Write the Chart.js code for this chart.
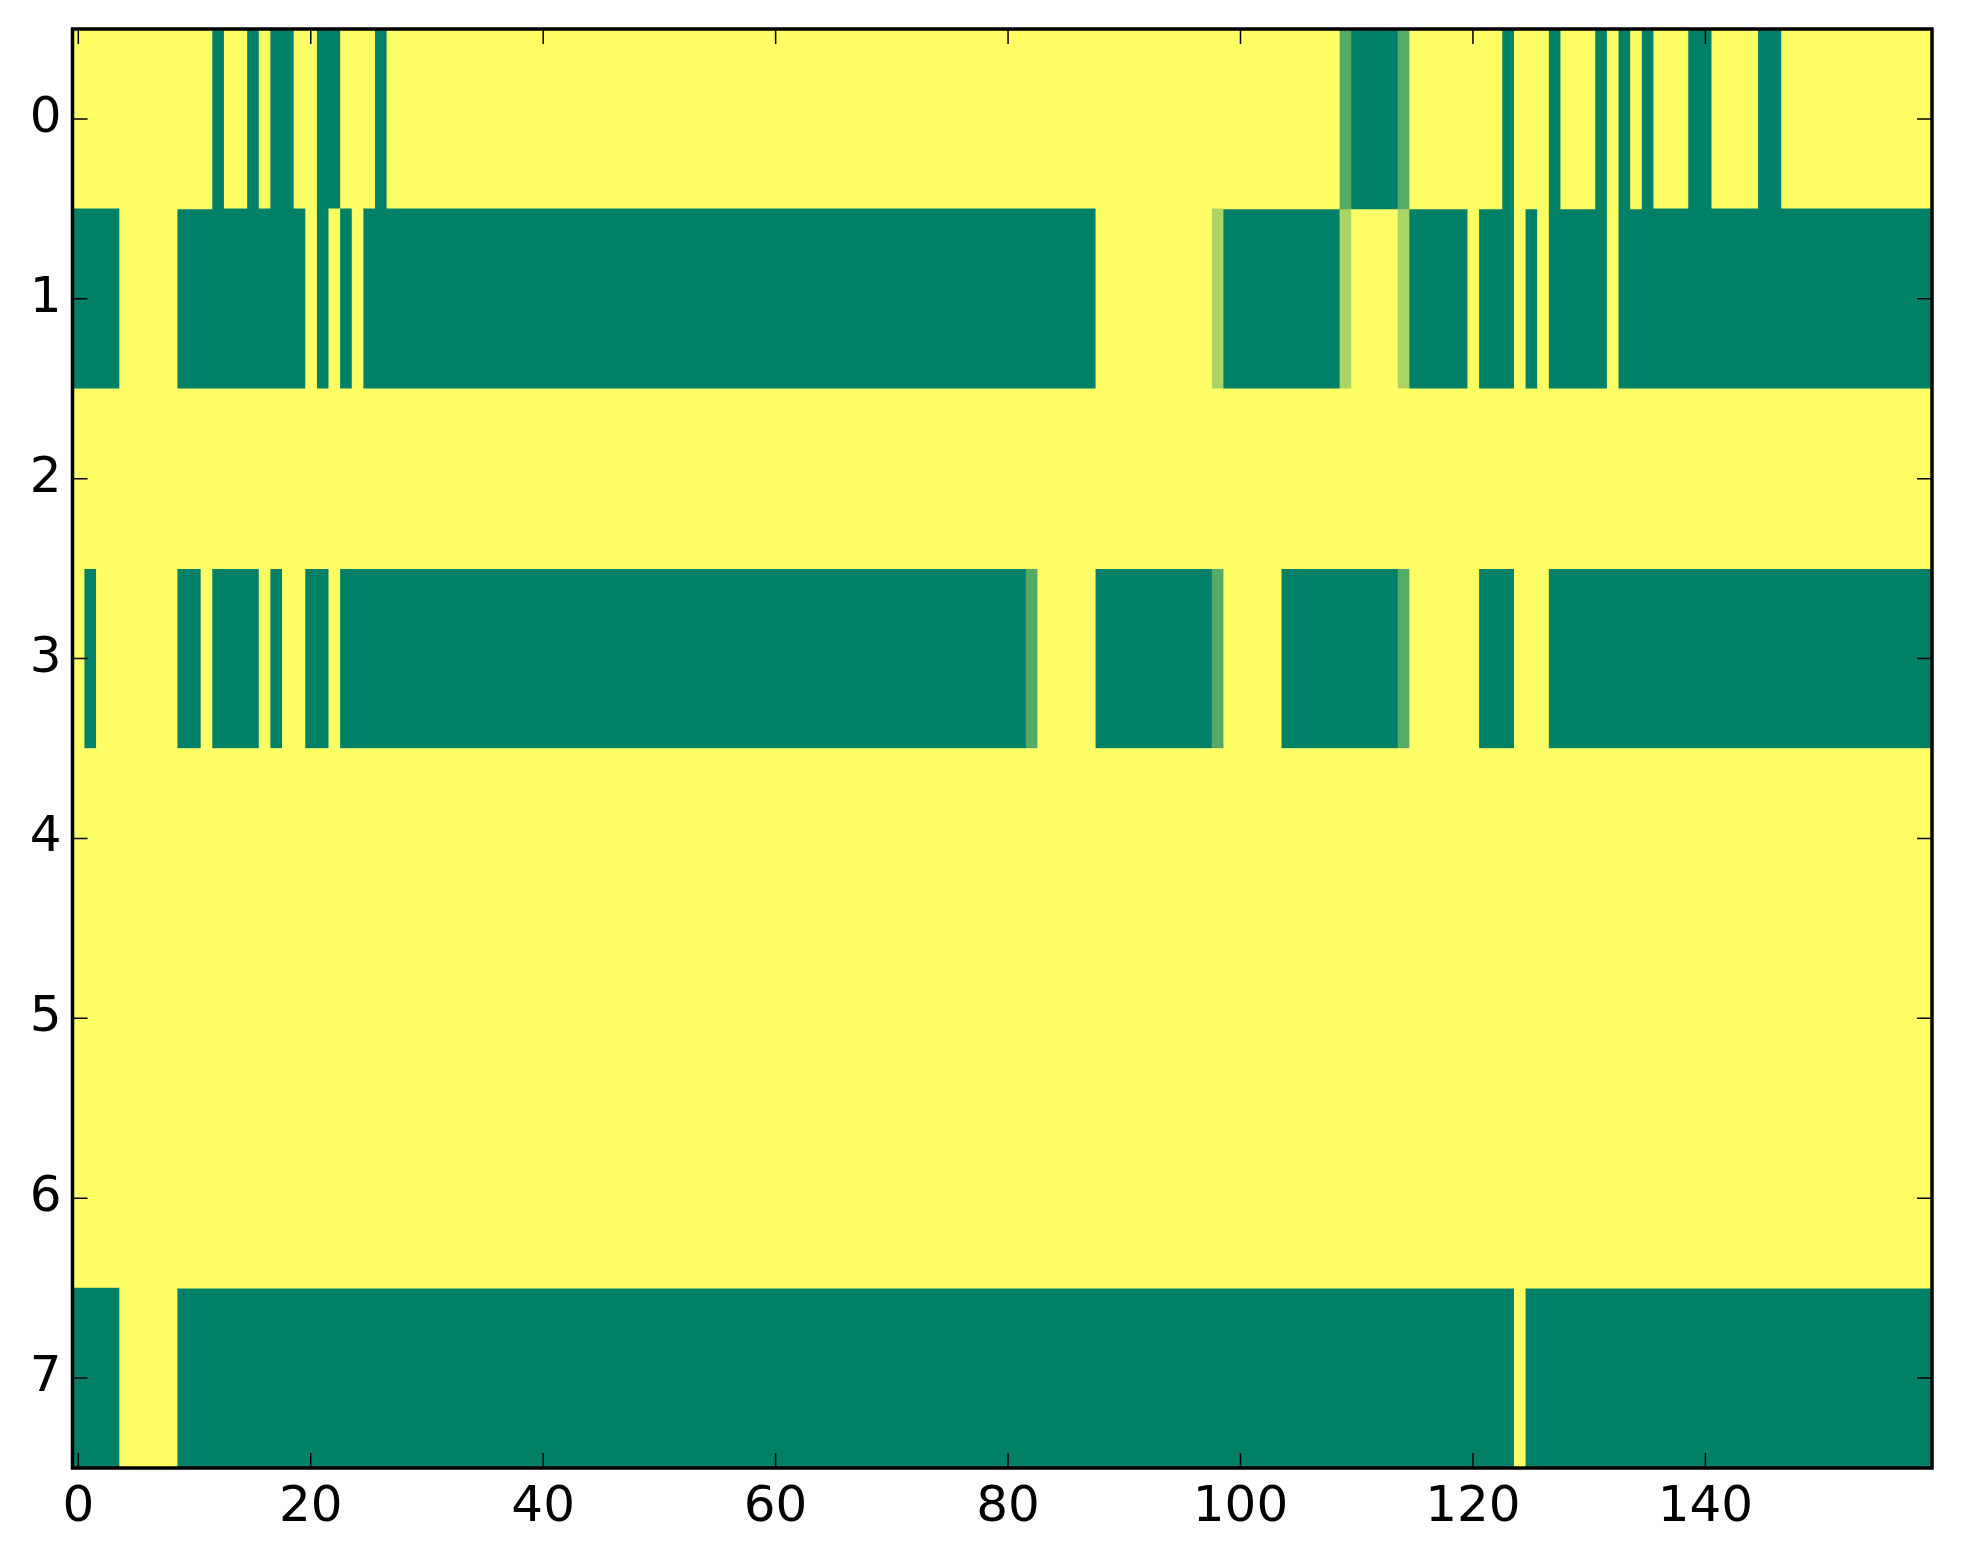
<!DOCTYPE html>
<html>
<head>
<meta charset="utf-8">
<script src="https://cdn.jsdelivr.net/npm/chart.js@4.4.1/dist/chart.umd.min.js"></script>
<style>
  html, body { margin: 0; padding: 0; background: #ffffff; overflow: hidden; }
  canvas { display: block; }
</style>
</head>
<body>
<canvas id="chart" width="1963" height="1564"></canvas>
<script>
// row labels (y axis) and x tick labels
const rowLabels = ['0', '1', '2', '3', '4', '5', '6', '7'];
const xTicks = [0, 20, 40, 60, 80, 100, 120, 140];

// one value per column (0..159) for each row
const row0 = [
  1, 1, 1, 1, 1, 1, 1, 1, 1, 1,   1, 1, 0, 1, 1, 0, 1, 0, 0, 1,
  1, 0, 0, 1, 1, 1, 0, 1, 1, 1,   1, 1, 1, 1, 1, 1, 1, 1, 1, 1,
  1, 1, 1, 1, 1, 1, 1, 1, 1, 1,   1, 1, 1, 1, 1, 1, 1, 1, 1, 1,
  1, 1, 1, 1, 1, 1, 1, 1, 1, 1,   1, 1, 1, 1, 1, 1, 1, 1, 1, 1,
  1, 1, 1, 1, 1, 1, 1, 1, 1, 1,   1, 1, 1, 1, 1, 1, 1, 1, 1, 1,
  1, 1, 1, 1, 1, 1, 1, 1, 1, 0.333, 0, 0, 0, 0, 0.333, 1, 1, 1, 1, 1,
  1, 1, 1, 0, 1, 1, 1, 0, 1, 1,   1, 0, 1, 0, 1, 0, 1, 1, 1, 0,
  0, 1, 1, 1, 1, 0, 0, 1, 1, 1,   1, 1, 1, 1, 1, 1, 1, 1, 1, 1
];
const row1 = [
  0, 0, 0, 0, 1, 1, 1, 1, 1, 0,   0, 0, 0, 0, 0, 0, 0, 0, 0, 0,
  1, 0, 1, 0, 1, 0, 0, 0, 0, 0,   0, 0, 0, 0, 0, 0, 0, 0, 0, 0,
  0, 0, 0, 0, 0, 0, 0, 0, 0, 0,   0, 0, 0, 0, 0, 0, 0, 0, 0, 0,
  0, 0, 0, 0, 0, 0, 0, 0, 0, 0,   0, 0, 0, 0, 0, 0, 0, 0, 0, 0,
  0, 0, 0, 0, 0, 0, 0, 0, 1, 1,   1, 1, 1, 1, 1, 1, 1, 1, 0.667, 0,
  0, 0, 0, 0, 0, 0, 0, 0, 0, 0.667, 1, 1, 1, 1, 0.667, 0, 0, 0, 0, 0,
  1, 0, 0, 0, 1, 0, 1, 0, 0, 0,   0, 0, 1, 0, 0, 0, 0, 0, 0, 0,
  0, 0, 0, 0, 0, 0, 0, 0, 0, 0,   0, 0, 0, 0, 0, 0, 0, 0, 0, 0
];
const row2 = [
  1, 1, 1, 1, 1, 1, 1, 1, 1, 1,   1, 1, 1, 1, 1, 1, 1, 1, 1, 1,
  1, 1, 1, 1, 1, 1, 1, 1, 1, 1,   1, 1, 1, 1, 1, 1, 1, 1, 1, 1,
  1, 1, 1, 1, 1, 1, 1, 1, 1, 1,   1, 1, 1, 1, 1, 1, 1, 1, 1, 1,
  1, 1, 1, 1, 1, 1, 1, 1, 1, 1,   1, 1, 1, 1, 1, 1, 1, 1, 1, 1,
  1, 1, 1, 1, 1, 1, 1, 1, 1, 1,   1, 1, 1, 1, 1, 1, 1, 1, 1, 1,
  1, 1, 1, 1, 1, 1, 1, 1, 1, 1,   1, 1, 1, 1, 1, 1, 1, 1, 1, 1,
  1, 1, 1, 1, 1, 1, 1, 1, 1, 1,   1, 1, 1, 1, 1, 1, 1, 1, 1, 1,
  1, 1, 1, 1, 1, 1, 1, 1, 1, 1,   1, 1, 1, 1, 1, 1, 1, 1, 1, 1
];
const row3 = [
  1, 0, 1, 1, 1, 1, 1, 1, 1, 0,   0, 1, 0, 0, 0, 0, 1, 0, 1, 1,
  0, 0, 1, 0, 0, 0, 0, 0, 0, 0,   0, 0, 0, 0, 0, 0, 0, 0, 0, 0,
  0, 0, 0, 0, 0, 0, 0, 0, 0, 0,   0, 0, 0, 0, 0, 0, 0, 0, 0, 0,
  0, 0, 0, 0, 0, 0, 0, 0, 0, 0,   0, 0, 0, 0, 0, 0, 0, 0, 0, 0,
  0, 0, 0.333, 1, 1, 1, 1, 1, 0, 0, 0, 0, 0, 0, 0, 0, 0, 0, 0.333, 1,
  1, 1, 1, 1, 0, 0, 0, 0, 0, 0,   0, 0, 0, 0, 0.333, 1, 1, 1, 1, 1,
  1, 0, 0, 0, 1, 1, 1, 0, 0, 0,   0, 0, 0, 0, 0, 0, 0, 0, 0, 0,
  0, 0, 0, 0, 0, 0, 0, 0, 0, 0,   0, 0, 0, 0, 0, 0, 0, 0, 0, 0
];
const row4 = [
  1, 1, 1, 1, 1, 1, 1, 1, 1, 1,   1, 1, 1, 1, 1, 1, 1, 1, 1, 1,
  1, 1, 1, 1, 1, 1, 1, 1, 1, 1,   1, 1, 1, 1, 1, 1, 1, 1, 1, 1,
  1, 1, 1, 1, 1, 1, 1, 1, 1, 1,   1, 1, 1, 1, 1, 1, 1, 1, 1, 1,
  1, 1, 1, 1, 1, 1, 1, 1, 1, 1,   1, 1, 1, 1, 1, 1, 1, 1, 1, 1,
  1, 1, 1, 1, 1, 1, 1, 1, 1, 1,   1, 1, 1, 1, 1, 1, 1, 1, 1, 1,
  1, 1, 1, 1, 1, 1, 1, 1, 1, 1,   1, 1, 1, 1, 1, 1, 1, 1, 1, 1,
  1, 1, 1, 1, 1, 1, 1, 1, 1, 1,   1, 1, 1, 1, 1, 1, 1, 1, 1, 1,
  1, 1, 1, 1, 1, 1, 1, 1, 1, 1,   1, 1, 1, 1, 1, 1, 1, 1, 1, 1
];
const row5 = [
  1, 1, 1, 1, 1, 1, 1, 1, 1, 1,   1, 1, 1, 1, 1, 1, 1, 1, 1, 1,
  1, 1, 1, 1, 1, 1, 1, 1, 1, 1,   1, 1, 1, 1, 1, 1, 1, 1, 1, 1,
  1, 1, 1, 1, 1, 1, 1, 1, 1, 1,   1, 1, 1, 1, 1, 1, 1, 1, 1, 1,
  1, 1, 1, 1, 1, 1, 1, 1, 1, 1,   1, 1, 1, 1, 1, 1, 1, 1, 1, 1,
  1, 1, 1, 1, 1, 1, 1, 1, 1, 1,   1, 1, 1, 1, 1, 1, 1, 1, 1, 1,
  1, 1, 1, 1, 1, 1, 1, 1, 1, 1,   1, 1, 1, 1, 1, 1, 1, 1, 1, 1,
  1, 1, 1, 1, 1, 1, 1, 1, 1, 1,   1, 1, 1, 1, 1, 1, 1, 1, 1, 1,
  1, 1, 1, 1, 1, 1, 1, 1, 1, 1,   1, 1, 1, 1, 1, 1, 1, 1, 1, 1
];
const row6 = [
  1, 1, 1, 1, 1, 1, 1, 1, 1, 1,   1, 1, 1, 1, 1, 1, 1, 1, 1, 1,
  1, 1, 1, 1, 1, 1, 1, 1, 1, 1,   1, 1, 1, 1, 1, 1, 1, 1, 1, 1,
  1, 1, 1, 1, 1, 1, 1, 1, 1, 1,   1, 1, 1, 1, 1, 1, 1, 1, 1, 1,
  1, 1, 1, 1, 1, 1, 1, 1, 1, 1,   1, 1, 1, 1, 1, 1, 1, 1, 1, 1,
  1, 1, 1, 1, 1, 1, 1, 1, 1, 1,   1, 1, 1, 1, 1, 1, 1, 1, 1, 1,
  1, 1, 1, 1, 1, 1, 1, 1, 1, 1,   1, 1, 1, 1, 1, 1, 1, 1, 1, 1,
  1, 1, 1, 1, 1, 1, 1, 1, 1, 1,   1, 1, 1, 1, 1, 1, 1, 1, 1, 1,
  1, 1, 1, 1, 1, 1, 1, 1, 1, 1,   1, 1, 1, 1, 1, 1, 1, 1, 1, 1
];
const row7 = [
  0, 0, 0, 0, 1, 1, 1, 1, 1, 0,   0, 0, 0, 0, 0, 0, 0, 0, 0, 0,
  0, 0, 0, 0, 0, 0, 0, 0, 0, 0,   0, 0, 0, 0, 0, 0, 0, 0, 0, 0,
  0, 0, 0, 0, 0, 0, 0, 0, 0, 0,   0, 0, 0, 0, 0, 0, 0, 0, 0, 0,
  0, 0, 0, 0, 0, 0, 0, 0, 0, 0,   0, 0, 0, 0, 0, 0, 0, 0, 0, 0,
  0, 0, 0, 0, 0, 0, 0, 0, 0, 0,   0, 0, 0, 0, 0, 0, 0, 0, 0, 0,
  0, 0, 0, 0, 0, 0, 0, 0, 0, 0,   0, 0, 0, 0, 0, 0, 0, 0, 0, 0,
  0, 0, 0, 0, 1, 0, 0, 0, 0, 0,   0, 0, 0, 0, 0, 0, 0, 0, 0, 0,
  0, 0, 0, 0, 0, 0, 0, 0, 0, 0,   0, 0, 0, 0, 0, 0, 0, 0, 0, 0
];

const rows = [row0, row1, row2, row3, row4, row5, row6, row7];

// matplotlib "summer" colormap
function summer(v) {
    const r = Math.round(255 * v);
    const g = Math.round(255 * (0.5 + 0.5 * v));
    return `rgb(${r},${g},102)`;
}

// merge equal neighbouring cells into runs so the bars have no seams
function runsOf(values) {
    const runs = [];
    let start = 0;
    for (let i = 1; i <= values.length; i++) {
        if (i === values.length || values[i] !== values[start]) {
            runs.push({ from: start - 0.5, to: i - 0.5, value: values[start] });
            start = i;
        }
    }
    return runs;
}

const rowRuns = rows.map(runsOf);
const maxRuns = Math.max(...rowRuns.map(r => r.length));

const datasets = [];
for (let k = 0; k < maxRuns; k++) {
    datasets.push({
        data: rowRuns.map(r => r[k] ? [r[k].from, r[k].to] : null),
        backgroundColor: rowRuns.map(r => r[k] ? summer(r[k].value) : 'rgba(0,0,0,0)'),
        borderWidth: 0,
        inflateAmount: 0.33,
        grouped: false,
        barPercentage: 1,
        categoryPercentage: 1
    });
}

const fontSpec = { family: 'DejaVu Sans', size: 50 };

// black frame with inward ticks on all four sides
const frame = {
    id: 'frame',
    afterDraw(chart) {
        const { ctx, chartArea: a, scales } = chart;
        ctx.save();
        ctx.strokeStyle = '#000';
        ctx.lineWidth = 1.5;
        ctx.beginPath();
        scales.x.ticks.forEach(t => {
            const px = scales.x.getPixelForValue(t.value);
            ctx.moveTo(px, a.bottom); ctx.lineTo(px, a.bottom - 15);
            ctx.moveTo(px, a.top); ctx.lineTo(px, a.top + 15);
        });
        rowLabels.forEach((l, i) => {
            const py = scales.y.getPixelForValue(i);
            ctx.moveTo(a.left, py); ctx.lineTo(a.left + 15, py);
            ctx.moveTo(a.right, py); ctx.lineTo(a.right - 15, py);
        });
        ctx.stroke();
        ctx.lineWidth = 3.5;
        ctx.strokeRect(a.left, a.top, a.right - a.left, a.bottom - a.top);
        ctx.restore();
    }
};

new Chart(document.getElementById('chart'), {
    type: 'bar',
    data: { labels: rowLabels, datasets: datasets },
    plugins: [frame],
    options: {
        indexAxis: 'y',
        responsive: false,
        animation: false,
        devicePixelRatio: 1,
        layout: { padding: { top: 29, right: 31, left: 0, bottom: 0 } },
        plugins: { legend: { display: false }, tooltip: { enabled: false } },
        scales: {
            y: {
                type: 'category',
                offset: true,
                grid: { display: false, drawTicks: false },
                border: { display: false },
                ticks: { color: '#000', font: fontSpec, padding: 11 },
                afterFit(s) {
                    s.width = 72.5;
                    s.paddingTop = 0;
                    s.paddingBottom = 0;
                }
            },
            x: {
                type: 'linear',
                min: -0.5,
                max: 159.5,
                grid: { display: false, drawTicks: false },
                border: { display: false },
                afterBuildTicks(s) { s.ticks = xTicks.map(v => ({ value: v })); },
                ticks: { color: '#000', font: fontSpec, padding: 10, maxRotation: 0 },
                afterFit(s) {
                    s.height = 96;
                    s.paddingLeft = 0;
                    s.paddingRight = 0;
                }
            }
        }
    }
});
</script>
</body>
</html>
